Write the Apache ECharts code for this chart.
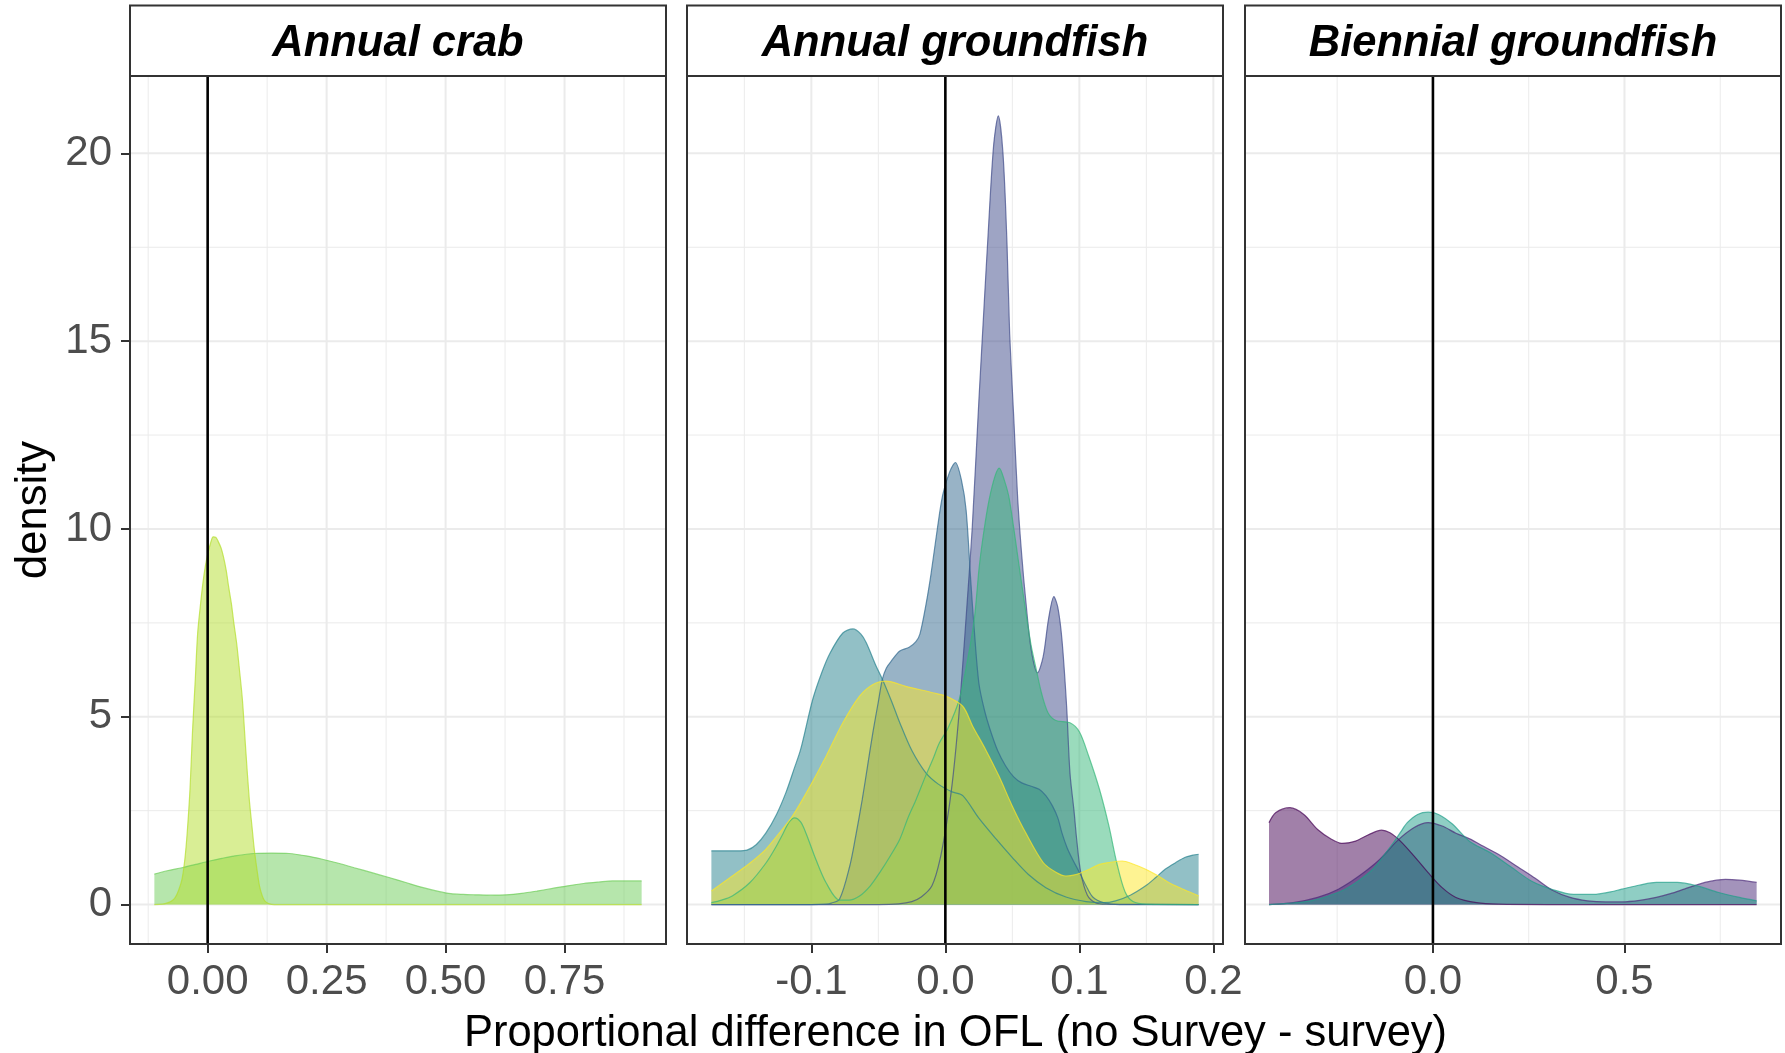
<!DOCTYPE html>
<html><head><meta charset="utf-8">
<script src="https://cdn.jsdelivr.net/npm/echarts@6/dist/echarts.min.js"></script>
<style>html,body{margin:0;padding:0;background:#fff}#c{width:1785px;height:1053px}</style>
</head><body><div id="c"></div>
<script>
// ---------------- DATA ----------------
const panelTitles = ['Annual crab', 'Annual groundfish', 'Biennial groundfish'];
const xTitle = 'Proportional difference in OFL (no Survey - survey)';
const yTitle = 'density';
const viridis10 = ['#440154','#482878','#3E4A89','#31688E','#26828E','#1F9E89','#35B779','#6DCD59','#B4DE2C','#FDE725'];

const xRanges = [[-0.1632, 0.9632], [-0.1928, 0.2072], [-0.4906, 0.9086]];
const xTicks = [[0, 0.25, 0.5, 0.75], [-0.1, 0, 0.1, 0.2], [0, 0.5]];
const xTickDigits = [2, 1, 1];
const xMinor = [[-0.125, 0.125, 0.375, 0.625, 0.875], [-0.15, -0.05, 0.05, 0.15], [-0.25, 0.25, 0.75]];
const yRange = [-1.05, 22.06];
const yTicks = [0, 5, 10, 15, 20];
const yMinor = [2.5, 7.5, 12.5, 17.5];

// Panel 1: Annual crab
const crabBroadX = [-0.112,-0.085,-0.054,-0.025,0.004,0.03,0.055,0.098,0.135,0.171,0.21,0.243,0.275,0.308,0.345,0.381,0.418,0.453,0.485,0.511,0.537,0.562,0.595,0.627,0.66,0.692,0.725,0.757,0.79,0.822,0.851,0.88,0.912];
const crabBroadY = [0.81,0.9,0.98,1.07,1.16,1.23,1.29,1.36,1.37,1.36,1.29,1.2,1.1,0.98,0.85,0.72,0.58,0.45,0.35,0.29,0.27,0.26,0.25,0.26,0.3,0.36,0.43,0.5,0.56,0.6,0.63,0.63,0.63];
const crabNarrowX = [-0.112,-0.095,-0.083,-0.075,-0.068,-0.061,-0.054,-0.048,-0.043,-0.037,-0.032,-0.026,-0.021,-0.015,-0.010,-0.005,0.0007,0.006,0.0115,0.017,0.022,0.028,0.033,0.039,0.044,0.05,0.055,0.061,0.066,0.073,0.080,0.0875,0.093,0.098,0.104,0.109,0.115,0.12,0.128,0.14,0.2,0.4,0.6,0.8,0.912];
const crabNarrowY = [0,0.01,0.05,0.1,0.19,0.38,0.67,1.2,1.91,3.1,4.57,6.0,7.23,8.0,8.56,9.0,9.36,9.62,9.79,9.78,9.67,9.5,9.27,8.9,8.47,8.0,7.5,6.95,6.35,5.46,4.13,2.8,2.1,1.47,0.9,0.49,0.22,0.1,0.03,0,0,0,0,0,0];

// Panel 2: Annual groundfish
const agf3X = [-0.1746,-0.05,-0.035,-0.025,-0.018,-0.01,-0.004,0.002,0.006,0.01,0.013,0.016,0.02,0.025,0.029,0.032,0.036,0.0395,0.043,0.046,0.048,0.051,0.054,0.057,0.060,0.064,0.0688,0.073,0.077,0.081,0.084,0.087,0.0905,0.093,0.096,0.098,0.101,0.106,0.112,0.12,0.189];
const agf3Y = [0,0,0.02,0.08,0.2,0.5,1.2,2.4,3.5,5.0,6.4,7.9,10.0,13.4,16.0,17.9,20.2,21.0,20.0,17.6,15.2,13.0,10.8,9.3,8.1,6.8,6.17,6.6,7.6,8.2,7.9,7.06,5.28,3.5,2.5,1.74,0.86,0.25,0.05,0.01,0];
const agf4X = [-0.1746,-0.1,-0.09,-0.085,-0.079,-0.0715,-0.067,-0.062,-0.058,-0.054,-0.05,-0.047,-0.044,-0.040,-0.034,-0.027,-0.022,-0.019,-0.0144,-0.0107,-0.006,-0.002,0.003,0.0075,0.012,0.0155,0.019,0.0216,0.025,0.029,0.033,0.039,0.045,0.051,0.057,0.064,0.070,0.075,0.080,0.084,0.087,0.091,0.095,0.1,0.105,0.11,0.118,0.13,0.189];
const agf4Y = [0,0,0.01,0.04,0.14,1.0,1.8,2.8,3.7,4.6,5.4,6.0,6.3,6.5,6.75,6.85,7.0,7.2,8.0,8.8,10.0,10.9,11.5,11.77,11.3,10.5,8.6,7.3,5.9,5.2,4.7,4.1,3.69,3.4,3.24,3.15,3.07,2.9,2.62,2.3,1.91,1.5,1.2,0.86,0.5,0.2,0.05,0,0];
const agf5X = [-0.1746,-0.165,-0.155,-0.148,-0.141,-0.134,-0.126,-0.119,-0.113,-0.108,-0.099,-0.092,-0.086,-0.0765,-0.069,-0.063,-0.059,-0.0517,-0.047,-0.040,-0.034,-0.025,-0.0144,-0.005,0.005,0.013,0.025,0.038,0.05,0.062,0.075,0.09,0.105,0.118,0.127,0.138,0.1495,0.157,0.164,0.172,0.179,0.185,0.189];
const agf5Y = [1.43,1.43,1.43,1.45,1.6,1.9,2.4,2.98,3.6,4.13,5.46,6.2,6.7,7.23,7.34,7.2,6.97,6.35,6.0,5.4,4.84,4.1,3.5,3.2,3.0,2.9,2.3,1.74,1.25,0.8,0.45,0.2,0.08,0.05,0.1,0.25,0.5,0.72,0.94,1.12,1.26,1.32,1.34];
const agf7X = [-0.1746,-0.167,-0.159,-0.146,-0.134,-0.127,-0.121,-0.1165,-0.1125,-0.108,-0.104,-0.0966,-0.089,-0.079,-0.072,-0.064,-0.056,-0.049,-0.041,-0.034,-0.028,-0.0218,-0.015,-0.0094,-0.0045,0.002,0.0104,0.016,0.0216,0.0253,0.029,0.0328,0.037,0.0402,0.044,0.0477,0.0551,0.060,0.064,0.0676,0.072,0.0767,0.0825,0.093,0.1,0.107,0.115,0.122,0.128,0.134,0.14,0.15,0.189];
const agf7Y = [0.05,0.12,0.23,0.58,1.1,1.5,1.9,2.2,2.31,2.2,1.9,1.2,0.58,0.12,0.12,0.23,0.5,0.85,1.3,1.74,2.3,2.8,3.4,3.86,4.3,4.7,5.46,6.4,7.6,9.0,10.0,10.8,11.4,11.62,11.3,10.8,9.0,7.8,6.9,6.3,5.6,5.1,4.9,4.84,4.6,3.95,3.07,2.1,1.1,0.35,0.08,0.01,0];
const agf10X = [-0.1746,-0.159,-0.146,-0.134,-0.124,-0.114,-0.101,-0.089,-0.0765,-0.064,-0.054,-0.044,-0.0295,-0.0094,0.0005,0.013,0.0204,0.030,0.040,0.050,0.060,0.073,0.0825,0.09,0.0975,0.106,0.115,0.122,0.132,0.14,0.1495,0.158,0.167,0.178,0.189];
const agf10Y = [0.36,0.76,1.1,1.47,1.9,2.36,3.15,3.95,4.84,5.55,5.86,5.95,5.81,5.64,5.55,5.28,4.75,4.13,3.42,2.62,1.91,1.12,0.86,0.76,0.8,0.92,1.07,1.12,1.16,1.08,0.94,0.78,0.58,0.4,0.23];

// Panel 3: Biennial groundfish
const bgf1X = [-0.428,-0.41,-0.373,-0.337,-0.301,-0.265,-0.238,-0.202,-0.166,-0.134,-0.112,-0.085,-0.049,-0.0125,0.024,0.06,0.114,0.17,0.3,0.5,0.7,0.845];
const bgf1Y = [2.18,2.45,2.58,2.4,2.0,1.74,1.63,1.69,1.87,1.98,1.91,1.69,1.29,0.85,0.45,0.19,0.05,0.01,0,0,0,0];
const bgf2X = [-0.428,-0.365,-0.301,-0.247,-0.193,-0.139,-0.094,-0.049,-0.0125,0.024,0.06,0.096,0.132,0.177,0.222,0.267,0.312,0.358,0.403,0.45,0.493,0.54,0.583,0.62,0.656,0.71,0.764,0.80,0.845];
const bgf2Y = [0,0.05,0.19,0.41,0.76,1.2,1.69,2.05,2.18,2.09,1.9,1.75,1.55,1.3,1.0,0.7,0.38,0.19,0.1,0.07,0.07,0.11,0.19,0.29,0.41,0.59,0.67,0.65,0.59];
const bgf6X = [-0.428,-0.38,-0.319,-0.275,-0.229,-0.193,-0.157,-0.13,-0.103,-0.085,-0.067,-0.04,-0.0125,0.0146,0.05,0.096,0.15,0.204,0.258,0.312,0.367,0.42,0.46,0.493,0.54,0.583,0.638,0.692,0.746,0.80,0.845];
const bgf6Y = [0,0.03,0.1,0.22,0.41,0.64,0.94,1.28,1.65,1.92,2.18,2.4,2.46,2.4,2.15,1.68,1.38,1.0,0.62,0.4,0.27,0.27,0.33,0.41,0.52,0.59,0.59,0.49,0.32,0.19,0.1];

// series list: [panel, color index, x, y] (drawing order as in the original)
const densities = [
  [0, 7, crabBroadX, crabBroadY],
  [0, 8, crabNarrowX, crabNarrowY],
  [1, 2, agf3X, agf3Y],
  [1, 3, agf4X, agf4Y],
  [1, 4, agf5X, agf5Y],
  [1, 6, agf7X, agf7Y],
  [1, 9, agf10X, agf10Y],
  [2, 0, bgf1X, bgf1Y],
  [2, 1, bgf2X, bgf2Y],
  [2, 5, bgf6X, bgf6Y]
];

// ---------------- LAYOUT ----------------
const FONT = "'Liberation Sans', Arial, Helvetica, sans-serif";
const gridLefts = [130, 687, 1245];
const gridW = 536, gridTop = 76, gridH = 868;

const grids = gridLefts.map(l => ({left: l, top: gridTop, width: gridW, height: gridH,
  show: false, containLabel: false}));

const xAxes = [0,1,2].map(i => ({
  gridIndex: i, type: 'value', min: xRanges[i][0], max: xRanges[i][1], position: 'bottom',
  axisLine: {show: false, onZero: false},
  axisTick: {show: true, customValues: xTicks[i], length: 9, lineStyle: {color: '#333333', width: 2}},
  axisLabel: {show: true, customValues: xTicks[i], formatter: v => Number(v).toFixed(xTickDigits[i]),
    color: '#4D4D4D', fontSize: 42, fontFamily: FONT, margin: 17},
  splitLine: {show: false}, minorTick: {show: false}, minorSplitLine: {show: false}
}));
const yAxes = [0,1,2].map(i => ({
  gridIndex: i, type: 'value', min: yRange[0], max: yRange[1], position: 'left',
  axisLine: {show: false, onZero: false},
  axisTick: {show: i === 0, customValues: yTicks, length: 9, lineStyle: {color: '#333333', width: 2}},
  axisLabel: {show: i === 0, customValues: yTicks, color: '#4D4D4D', fontSize: 42, fontFamily: FONT, margin: 18},
  splitLine: {show: false}, minorTick: {show: false}, minorSplitLine: {show: false}
}));

function segLine(i, pts, color, width, z) {
  return {type: 'line', xAxisIndex: i, yAxisIndex: i, data: pts, z: z, silent: true,
    showSymbol: false, symbol: 'none', animation: false, clip: true,
    lineStyle: {color: color, width: width, type: 'solid'}};
}

const series = [];
// grid lines, under the densities, placed through the axes' scales
[0,1,2].forEach(i => {
  yMinor.forEach(v => series.push(segLine(i, [[xRanges[i][0], v], [xRanges[i][1], v]], '#EBEBEB', 1, 1)));
  xMinor[i].forEach(v => series.push(segLine(i, [[v, yRange[0]], [v, yRange[1]]], '#EBEBEB', 1, 1)));
  yTicks.forEach(v => series.push(segLine(i, [[xRanges[i][0], v], [xRanges[i][1], v]], '#EBEBEB', 2, 1)));
  xTicks[i].forEach(v => series.push(segLine(i, [[v, yRange[0]], [v, yRange[1]]], '#EBEBEB', 2, 1)));
});
densities.forEach(([p, ci, xs, ys]) => {
  const col = viridis10[ci];
  series.push({type: 'line', xAxisIndex: p, yAxisIndex: p, z: 2, silent: true,
    data: xs.map((x, k) => [x, ys[k]]), showSymbol: false, symbol: 'none', smooth: 0.3,
    lineStyle: {color: col, width: 1.2, opacity: 0.7},
    areaStyle: {color: col, opacity: 0.5}, animation: false});
});
// vertical reference line at 0
[0,1,2].forEach(i => series.push(segLine(i, [[0, yRange[0]], [0, yRange[1]]], '#000000', 2.6, 3)));

const graphics = [];
gridLefts.forEach((l, i) => {
  // panel border, on top of the grid lines
  graphics.push({type: 'rect', shape: {x: l, y: gridTop, width: gridW, height: gridH},
    style: {fill: 'none', stroke: '#333333', lineWidth: 2}, z: 50, silent: true});
  // strip
  graphics.push({type: 'rect', shape: {x: l, y: 5.5, width: gridW, height: 70.5},
    style: {fill: '#ffffff', stroke: '#333333', lineWidth: 2}, z: 50});
  graphics.push({type: 'text', x: l + gridW / 2, y: 44, z: 51,
    style: {text: panelTitles[i], fontSize: 43.5, fontWeight: 'bold', fontStyle: 'italic', fontFamily: FONT,
      fill: '#000000', align: 'center', verticalAlign: 'middle', textAlign: 'center', textVerticalAlign: 'middle'}});
});
graphics.push({type: 'text', x: (gridLefts[0] + gridLefts[2] + gridW) / 2, y: 1034,
  style: {text: xTitle, fontSize: 43.5, fontFamily: FONT, fill: '#000000', align: 'center', verticalAlign: 'middle',
    textAlign: 'center', textVerticalAlign: 'middle'}});
graphics.push({type: 'text', x: 34, y: gridTop + gridH / 2, rotation: Math.PI / 2,
  style: {text: yTitle, fontSize: 43.5, fontFamily: FONT, fill: '#000000', align: 'center', verticalAlign: 'middle',
    textAlign: 'center', textVerticalAlign: 'middle'}});

const chart = echarts.init(document.getElementById('c'), null, {renderer: 'canvas'});
chart.setOption({
  animation: false,
  backgroundColor: '#ffffff',
  grid: grids, xAxis: xAxes, yAxis: yAxes, series: series, graphic: graphics
});
</script>
</body></html>
